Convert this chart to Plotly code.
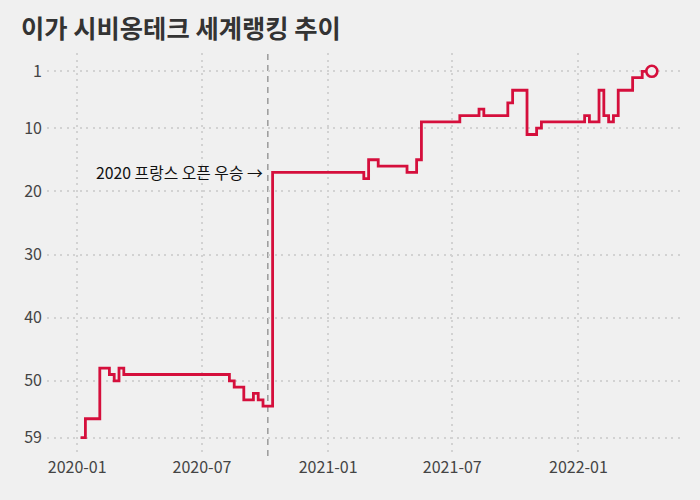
import plotly.graph_objects as go

# Ranking change points (weekly WTA ranking dates) and ranks
dates = [
    "2020-01-06", "2020-01-13", "2020-02-03", "2020-02-17", "2020-02-24",
    "2020-03-02", "2020-03-09", "2020-08-10", "2020-08-17", "2020-08-31",
    "2020-09-14", "2020-09-21", "2020-09-28", "2020-10-12", "2021-02-22",
    "2021-03-01", "2021-03-15", "2021-04-26", "2021-05-10", "2021-05-17",
    "2021-07-12", "2021-08-09", "2021-08-16", "2021-09-20", "2021-09-27",
    "2021-10-18", "2021-11-01", "2021-11-08", "2022-01-10", "2022-01-17",
    "2022-01-31", "2022-02-07", "2022-02-14", "2022-02-21", "2022-02-28",
    "2022-03-21", "2022-04-04", "2022-04-18",
]
ranks = [
    59, 56, 48, 49, 50,
    48, 49, 50, 51, 53,
    52, 53, 54, 17, 18,
    15, 16, 17, 15, 9,
    8, 7, 8, 6, 4,
    11, 10, 9, 8, 9,
    4, 8, 9, 8, 4,
    2, 1, 1,
]

y_tick_vals = [1, 10, 20, 30, 40, 50, 59]
x_tick_vals = ["2020-01-01", "2020-07-01", "2021-01-01", "2021-07-01", "2022-01-01"]
x_tick_text = ["2020-01", "2020-07", "2021-01", "2021-07", "2022-01"]

event_date = "2020-10-05"
event_label = "2020 프랑스 오픈 우승 →"
title_text = "이가 시비옹테크 세계랭킹 추이"

RED = "#d50f3c"
BG = "#f0f0f0"
FONT = "Noto Sans CJK KR"
GRID = "#d2d2d2"

fig = go.Figure()
fig.add_trace(go.Scatter(
    x=dates, y=ranks, mode="lines", line=dict(color=RED, width=2.8, shape="hv"),
    showlegend=False, hoverinfo="skip",
))
fig.add_trace(go.Scatter(
    x=[dates[-1]], y=[ranks[-1]], mode="markers",
    marker=dict(symbol="circle", size=11, color=BG, line=dict(color=RED, width=2.6)),
    showlegend=False, hoverinfo="skip",
))

fig.add_shape(type="line", xref="x", yref="paper", x0=event_date, x1=event_date,
              y0=0, y1=1, line=dict(color="#9a9a9a", width=1.5, dash="6px,5px"), layer="below")

fig.add_annotation(x=event_date, y=17, xref="x", yref="y", text=event_label,
                   showarrow=False, xanchor="right", yanchor="middle", xshift=-3,
                   font=dict(family=FONT, size=15.8, color="#111111"))

fig.update_layout(
    width=700, height=500,
    paper_bgcolor=BG, plot_bgcolor=BG,
    margin=dict(l=47, r=18, t=53, b=44, autoexpand=False),
    font=dict(family=FONT, size=16, color="#444444"),
    title=dict(text="<b>" + title_text + "</b>", x=21/700, xref="container", xanchor="left",
               y=1 - 29/500, yref="container", yanchor="middle",
               font=dict(family=FONT, size=25.3, color="#333333")),
    xaxis=dict(range=["2019-11-18", "2022-06-01"], tickvals=x_tick_vals, ticktext=x_tick_text,
               showgrid=True, gridcolor=GRID, gridwidth=2, griddash="2px,4.5px",
               zeroline=False, showline=False, ticks="", automargin=False,
               tickfont=dict(size=16, color="#444444")),
    yaxis=dict(range=[61.9, -1.9], tickvals=y_tick_vals,
               showgrid=True, gridcolor=GRID, gridwidth=2, griddash="2px,4.5px",
               zeroline=False, showline=False, ticks="", ticklabelstandoff=4, automargin=False,
               tickfont=dict(size=16, color="#444444")),
)

fig.write_html("out.html", config={"displayModeBar": False},
               post_script="document.body.style.margin='0';document.body.style.overflow='hidden';")
